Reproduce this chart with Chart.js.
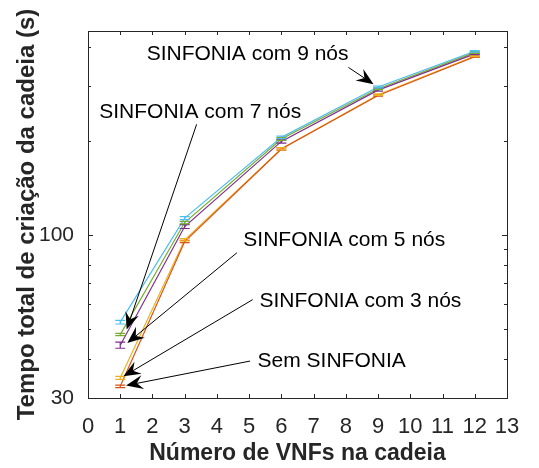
<!DOCTYPE html>
<html>
<head>
<meta charset="utf-8">
<script src="https://cdn.jsdelivr.net/npm/chart.js@4.4.0/dist/chart.umd.min.js"></script>
<style>
  html, body { margin: 0; padding: 0; background: #fff; }
</style>
</head>
<body>
<canvas id="chart" width="539" height="468"></canvas>
<script>
// x values (number of VNFs in the chain)
const vnfs = [1, 3, 6, 9, 12];

// mean creation time (s), one array per series
const semSinfonia = [32.7, 95.2, 188.4, 279.6, 372];
const sinfonia3 = [34.8, 96.4, 188.8, 281.3, 374];
const sinfonia5 = [44.3, 106.3, 199.3, 290.9, 380];
const sinfonia7 = [47.9, 109.5, 202.8, 294, 383.7];
const sinfonia9 = [52.5, 113.1, 205.3, 297.7, 387.3];

// error bar half-widths (s)
const errSem = [0.3, 0.8, 1.5, 1.5, 1.5];
const err3 = [0.4, 0.8, 1.5, 1.5, 1.5];
const err5 = [1.0, 1.5, 2.5, 2, 2];
const err7 = [0.4, 1.0, 2, 2, 2];
const err9 = [0.7, 1.2, 2, 2, 2];

const seriesNames = ['Sem SINFONIA', 'SINFONIA com 3 nós', 'SINFONIA com 5 nós', 'SINFONIA com 7 nós', 'SINFONIA com 9 nós'];
const seriesColors = ['#D95319', '#EDB120', '#7E2F8E', '#77AC30', '#4DBEEE'];

// axis ticks
const xTicks = [0, 1, 2, 3, 4, 5, 6, 7, 8, 9, 10, 11, 12, 13];
const yTicks = [30, 40, 50, 60, 70, 80, 90, 100, 200, 300, 400];
const yLabeled = [30, 100];

// text arrows: label anchor (left, middle) and arrow tail -> tip, in data units
const noteText = ['SINFONIA com 9 nós', 'SINFONIA com 7 nós', 'SINFONIA com 5 nós', 'SINFONIA com 3 nós', 'Sem SINFONIA'];
const noteAt = [[1.82, 379], [0.35, 248], [4.82, 96], [5.32, 61.3], [5.26, 39.3]];
const arrowFrom = [[8.08, 344], [3.37, 226], [4.62, 87.6], [5.11, 62], [5.03, 39.4]];
const arrowTo = [[8.86, 304], [1.2, 49.7], [1.22, 45], [1.1, 35.2], [1.18, 32.9]];

const seriesValues = [semSinfonia, sinfonia3, sinfonia5, sinfonia7, sinfonia9];
const seriesErrors = [errSem, err3, err5, err7, err9];

const AXIS = '#262626';
const FONT = "'Liberation Sans', Arial, sans-serif";

const datasets = seriesNames.map((name, i) => ({
  label: name,
  data: vnfs.map((x, j) => ({ x, y: seriesValues[i][j] })),
  errors: seriesErrors[i],
  borderColor: seriesColors[i],
  backgroundColor: seriesColors[i],
  borderWidth: 1.2,
  pointRadius: 0,
  tension: 0,
  fill: false
}));

// error bars with caps
const errorBars = {
  id: 'errorBars',
  afterDatasetsDraw(chart) {
    const ctx = chart.ctx, xs = chart.scales.x, ys = chart.scales.y;
    chart.data.datasets.forEach(ds => {
      ctx.save();
      ctx.strokeStyle = ds.borderColor;
      ctx.lineWidth = 1.2;
      ds.data.forEach((p, j) => {
        const e = ds.errors[j];
        const px = xs.getPixelForValue(p.x);
        const top = ys.getPixelForValue(p.y + e);
        const bot = ys.getPixelForValue(p.y - e);
        ctx.beginPath();
        ctx.moveTo(px, top); ctx.lineTo(px, bot);
        ctx.moveTo(px - 5, top); ctx.lineTo(px + 5, top);
        ctx.moveTo(px - 5, bot); ctx.lineTo(px + 5, bot);
        ctx.stroke();
      });
      ctx.restore();
    });
  }
};

// box with inward ticks on all four sides
const boxTicks = {
  id: 'boxTicks',
  afterDraw(chart) {
    const ctx = chart.ctx, a = chart.chartArea, xs = chart.scales.x, ys = chart.scales.y;
    ctx.save();
    ctx.strokeStyle = AXIS;
    ctx.lineWidth = 1;
    ctx.strokeRect(Math.round(a.left) + 0.5, Math.round(a.top) + 0.5, Math.round(a.right - a.left), Math.round(a.bottom - a.top));
    ctx.beginPath();
    xTicks.forEach(v => {
      const px = Math.round(xs.getPixelForValue(v)) + 0.5;
      ctx.moveTo(px, a.bottom); ctx.lineTo(px, a.bottom - 4);
      ctx.moveTo(px, a.top); ctx.lineTo(px, a.top + 4);
    });
    yTicks.forEach(v => {
      const py = Math.round(ys.getPixelForValue(v)) + 0.5;
      const len = yLabeled.includes(v) ? 5 : 3;
      ctx.moveTo(a.left, py); ctx.lineTo(a.left + len, py);
      ctx.moveTo(a.right, py); ctx.lineTo(a.right - len, py);
    });
    ctx.stroke();
    ctx.restore();
  }
};

// annotations: text + arrow with notched head
const notes = {
  id: 'notes',
  afterDraw(chart) {
    const ctx = chart.ctx, xs = chart.scales.x, ys = chart.scales.y;
    ctx.save();
    ctx.fillStyle = '#000';
    ctx.strokeStyle = '#000';
    ctx.font = '21px ' + FONT;
    ctx.textAlign = 'left';
    ctx.textBaseline = 'middle';
    noteText.forEach((t, i) => {
      ctx.fillText(t, xs.getPixelForValue(noteAt[i][0]), ys.getPixelForValue(noteAt[i][1]));
      const x0 = xs.getPixelForValue(arrowFrom[i][0]), y0 = ys.getPixelForValue(arrowFrom[i][1]);
      const x1 = xs.getPixelForValue(arrowTo[i][0]), y1 = ys.getPixelForValue(arrowTo[i][1]);
      const ang = Math.atan2(y1 - y0, x1 - x0);
      const L = 17, W = 7, notch = 11;
      const cos = Math.cos(ang), sin = Math.sin(ang);
      ctx.lineWidth = 1;
      ctx.beginPath();
      ctx.moveTo(x0, y0);
      ctx.lineTo(x1 - cos * notch, y1 - sin * notch);
      ctx.stroke();
      ctx.beginPath();
      ctx.moveTo(x1, y1);
      ctx.lineTo(x1 - cos * L - sin * W, y1 - sin * L + cos * W);
      ctx.lineTo(x1 - cos * notch, y1 - sin * notch);
      ctx.lineTo(x1 - cos * L + sin * W, y1 - sin * L - cos * W);
      ctx.closePath();
      ctx.fill();
    });
    ctx.restore();
  }
};

new Chart(document.getElementById('chart').getContext('2d'), {
  type: 'line',
  data: { datasets },
  options: {
    responsive: false,
    animation: false,
    layout: { padding: { top: 31, right: 32, left: 0, bottom: 0 } },
    plugins: { legend: { display: false }, tooltip: { enabled: false } },
    scales: {
      x: {
        type: 'linear',
        min: 0, max: 13,
        afterBuildTicks: s => { s.ticks = xTicks.map(v => ({ value: v })); },
        afterFit: s => { s.height = 70; },
        grid: { display: false },
        border: { display: false },
        ticks: { color: AXIS, font: { family: FONT, size: 22 }, padding: 8, maxRotation: 0, autoSkip: false },
        title: { display: true, text: 'Número de VNFs na cadeia', color: AXIS, font: { family: FONT, size: 23, weight: 'bold' }, padding: { top: 0, bottom: 1 } }
      },
      y: {
        type: 'logarithmic',
        min: 30, max: 450,
        afterBuildTicks: s => { s.ticks = yTicks.map(v => ({ value: v })); },
        afterFit: s => { s.width = 88; },
        grid: { display: false },
        border: { display: false },
        ticks: { color: AXIS, font: { family: FONT, size: 21 }, padding: 6, autoSkip: false, callback: v => yLabeled.includes(v) ? String(v) : '' },
        title: { display: true, text: 'Tempo total de criação da cadeia (s)', color: AXIS, font: { family: FONT, size: 24, weight: 'bold' }, padding: { top: 13, bottom: 0 } }
      }
    }
  },
  plugins: [errorBars, boxTicks, notes]
});
</script>
</body>
</html>
